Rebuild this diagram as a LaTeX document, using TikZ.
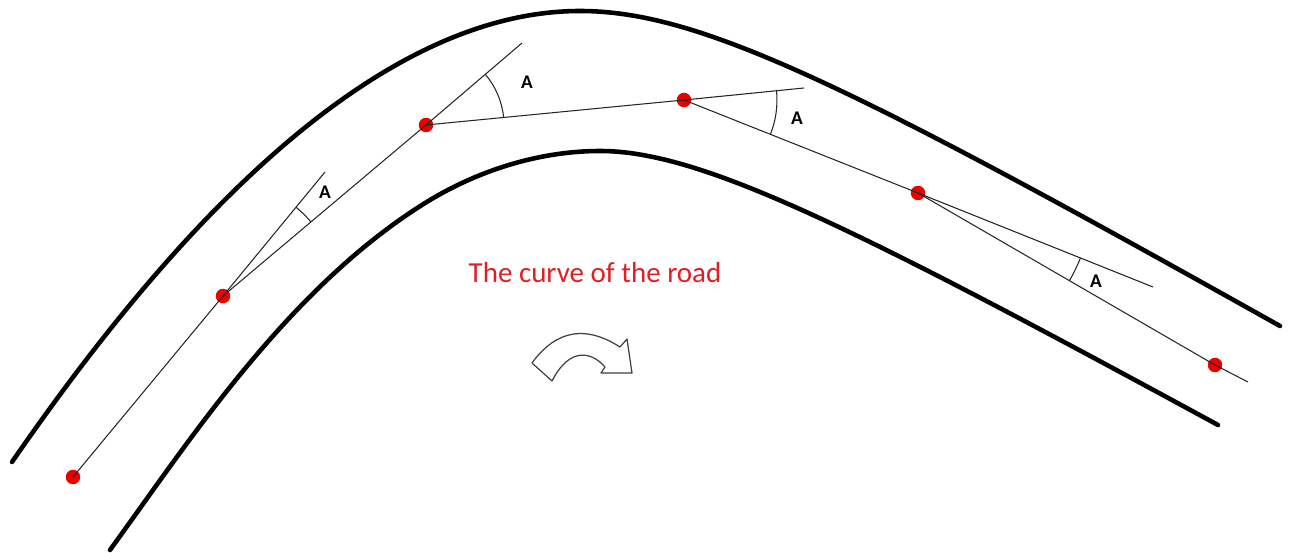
\documentclass[tikz,border=0pt]{standalone}
\usepackage{fontspec}
\setmainfont{Carlito}
\usetikzlibrary{angles}
\definecolor{roadred}{RGB}{226,30,36}

\begin{document}
\begin{tikzpicture}[x=0.02cm,y=-0.02cm,
    road/.style={line width=2.6pt,line cap=round},
    sight/.style={line width=0.6pt,black!85},
    dot/.style={circle,fill=red!92!black,inner sep=0pt,minimum size=0.29cm},
    lab/.style={font=\bfseries\fontsize{11}{13}\selectfont}]
  \useasboundingbox (0,0) rectangle (1291,553);
  % the two edges of the road
  \draw[road] (12,462) .. controls (150,262) and (360,11) .. (580,11)
    .. controls (700,11) and (850,85) .. (1280,326);
  \draw[road] (110,550) .. controls (190,440) and (290,285) .. (430,200)
    .. controls (480,170) and (540,151) .. (600,151)
    .. controls (700,151) and (850,225) .. (1218,425);
  % points on the curve
  \foreach \n/\x/\y in {p1/73/477,p2/223/296,p3/426/125,p4/684/100,p5/918/193,p6/1215/365} {
    \node[dot] (\n) at (\x,\y) {};
  }
  \coordinate (e2) at (325,172);
  \coordinate (e3) at (522,43);
  \coordinate (e4) at (804,88);
  \coordinate (e5) at (1153,287);
  \coordinate (e6) at (1248,382);
  \draw[sight] (p1.center) -- (p2.center) -- (e2);
  \draw[sight] (p2.center) -- (p3.center) -- (e3);
  \draw[sight] (p3.center) -- (p4.center) -- (e4);
  \draw[sight] (p4.center) -- (p5.center) -- (e5);
  \draw[sight] (p5.center) -- (p6.center) -- (e6);
  % angles
  \path pic[draw,sight,angle radius=2.3cm] {angle=p3--p2--e2};
  \path pic[draw,sight,angle radius=1.56cm] {angle=p4--p3--e3};
  \path pic[draw,sight,angle radius=1.86cm] {angle=p5--p4--e4};
  \path pic[draw,sight,angle radius=3.5cm] {angle=p6--p5--e5};
  \node[lab] (a2) at (325,192) {A};
  \node[lab] (a3) at (527,82) {A};
  \node[lab] (a4) at (797,118) {A};
  \node[lab] (a5) at (1096,281) {A};
  \node[text=roadred,font=\fontsize{16.5}{19}\selectfont] (title) at (595,273) {The curve of the road};
  % turning arrow
  \draw[line width=0.7pt,black!75,line join=round] (532,363) .. controls (550,338) and (578,320) .. (620,347)
    -- (627,339) -- (632,373) -- (601,373) -- (605,367)
    .. controls (592,352) and (570,346) .. (552,381) -- cycle;
\end{tikzpicture}
\end{document}
